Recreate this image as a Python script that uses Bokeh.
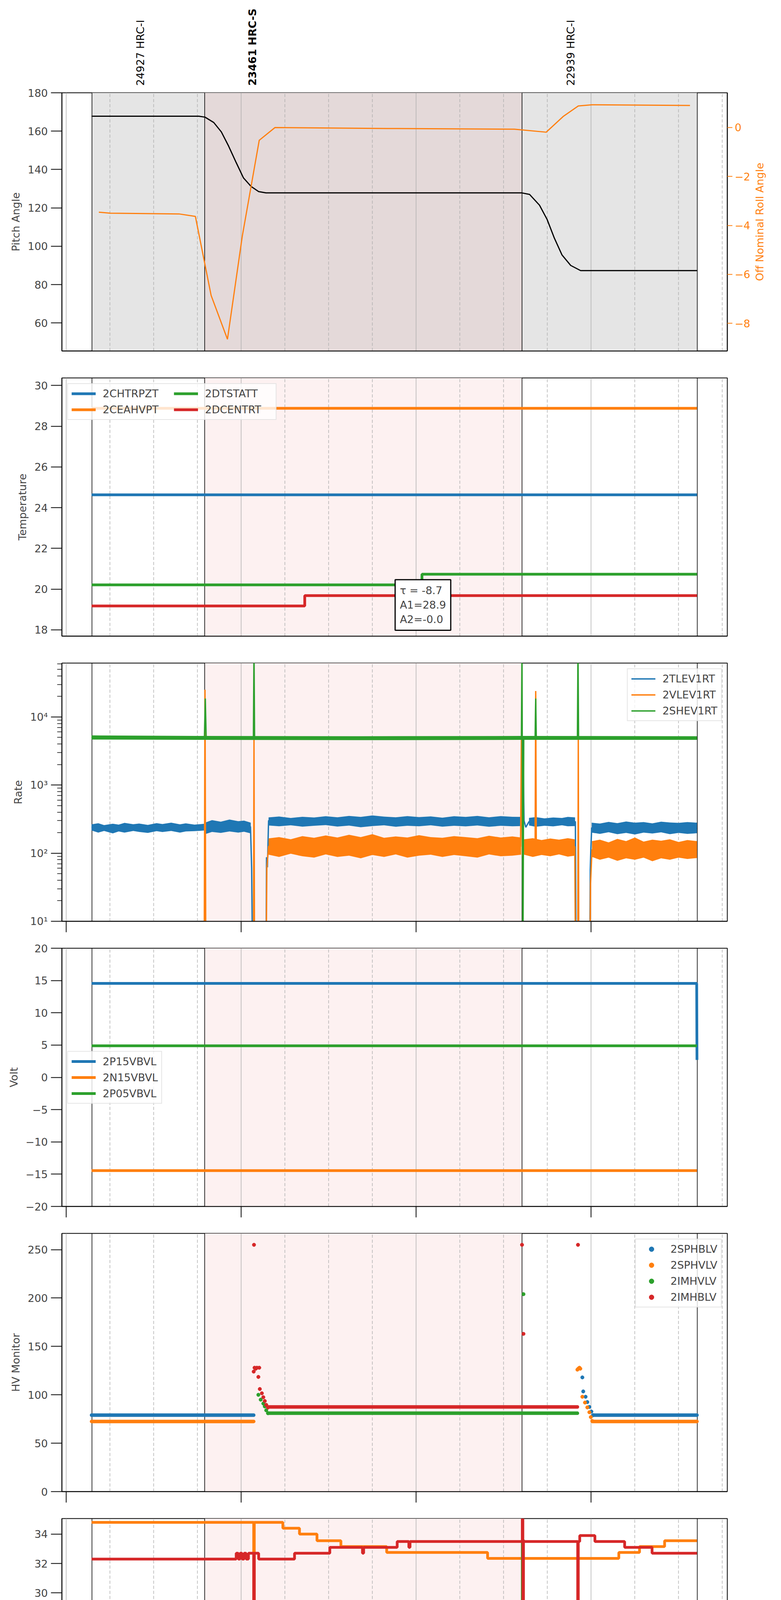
from math import pi

from bokeh.core.properties import value
from bokeh.embed import file_html
from bokeh.layouts import column, row
from bokeh.models import (BoxAnnotation, ColumnDataSource, FixedTicker, Label, Legend,
                          LegendItem, LinearAxis, Range1d, Span)
from bokeh.plotting import figure
from bokeh.resources import INLINE

FONT = "DejaVu Sans"
BLUE, ORANGE, GREEN, RED = "#1f77b4", "#ff7f0e", "#2ca02c", "#d62728"

# time axis: minutes after 2021-01-13 01:00
hour_ticks = [0, 60, 120, 180]
hour_labels = ["01h", "02h", "03h", "04h"]
quarter_ticks = [15, 30, 45, 75, 90, 105, 135, 150, 165, 195, 210, 225]
quarter_labels = ["15", "30", "45"] * 4
date_label = "2021-01-13 (013)"

# observations
obs_starts = [8.84, 47.5, 156.3]
obs_end = 216.4
obs_names = ["24927 HRC-I", "23461 HRC-S", "22939 HRC-I"]
obs_label_t = [25.4, 63.9, 173.0]
obs_style = ["normal", "bold", "normal"]

# panel 1: pitch and roll
pitch_t = [8.7, 45.5, 47.6, 50.6, 53.2, 55.7, 58.3, 60.8, 63.4, 66.0, 68.5,
           156.3, 158.9, 162.3, 164.9, 167.4, 170.0, 173.0, 176.4, 216.4]
pitch_v = [167.8, 167.8, 167.3, 164.5, 159.6, 152.2, 143.6, 135.6, 131.2, 128.5, 127.8,
           127.8, 127.0, 121.4, 114.0, 104.2, 95.5, 90.0, 87.3, 87.3]
roll_t = [11.2, 15.1, 38.7, 44.3, 49.7, 55.3, 60.4, 66.2, 71.6, 110.2, 153.7,
          164.6, 170.4, 175.6, 180.3, 213.9]
roll_v = [-3.46, -3.50, -3.53, -3.63, -6.86, -8.65, -4.43, -0.52, 0.0, -0.04, -0.07,
          -0.19, 0.45, 0.88, 0.93, 0.90]

# panel 2: temperature
chtrpzt_t, chtrpzt_v = [8.7, 216.3], [24.63, 24.63]
ceahvpt_t, ceahvpt_v = [8.7, 216.3], [28.88, 28.88]
dtstatt_t, dtstatt_v = [8.7, 122.0, 216.3], [20.21, 20.73, 20.73]
dcentrt_t, dcentrt_v = [8.7, 81.8, 216.3], [19.17, 19.68, 19.68]
fit_text = "τ = -8.7\nA1=28.9\nA2=-0.0"

# panel 3: rates
tlev_t = [8.7, 15, 22, 30, 38, 45, 47.4, 47.8, 52, 58, 63.2, 63.6, 64.0, 68.5, 68.7, 69.0, 69.4,
          80, 95, 110, 125, 140, 155.9, 156.3, 156.6, 157.0, 157.6, 158.7, 165, 174.6, 174.9,
          179.5, 179.7, 179.9, 180.2, 190, 200, 210, 216.3]
tlev_v = [240, 235, 245, 235, 245, 240, 230, 200, 250, 250, 245, 60, 1, 1, 87, 62, 300,
          295, 300, 305, 295, 295, 290, 260, 5000, 300, 240, 290, 295, 290, 1,
          1, 57, 110, 235, 230, 235, 230, 230]
tlev_band_t = [[8.7, 11, 13, 16, 18, 20, 23, 25, 28, 31, 33, 36, 39, 41, 44, 47.5],
               [47.6, 50, 53, 56, 59, 61, 63.3],
               [69.4, 73, 77, 81, 85, 89, 93, 97, 101, 105, 109, 113, 117, 121, 125, 129,
                133, 137, 141, 145, 149, 153, 156],
               [158.7, 161, 164, 167, 170, 172, 174.5],
               [180.2, 183, 186, 189, 192, 195, 198, 201, 204, 207, 210, 213, 216.3]]
tlev_band_lo = [[215, 200, 212, 195, 208, 200, 212, 205, 198, 210, 204, 212, 200, 208, 210, 215],
                [190, 205, 198, 208, 200, 206, 195],
                [255, 248, 256, 245, 252, 258, 246, 254, 240, 250, 256, 244, 252, 248, 256,
                 245, 252, 247, 255, 244, 252, 248, 250],
                [255, 244, 252, 247, 256, 248, 250],
                [200, 192, 203, 190, 198, 188, 200, 194, 202, 190, 198, 192, 196]]
tlev_band_hi = [[265, 275, 258, 270, 262, 278, 266, 272, 260, 276, 268, 280, 265, 274, 262, 270],
                [280, 305, 290, 312, 295, 300, 280],
                [335, 345, 328, 342, 334, 348, 336, 352, 340, 358, 344, 336, 350, 338, 346,
                 332, 348, 340, 352, 336, 350, 342, 340],
                [330, 338, 324, 334, 328, 340, 335],
                [280, 272, 288, 276, 292, 280, 286, 274, 290, 282, 278, 286, 280]]

vlev_t = [47.3, 47.6, 47.9, 64.2, 64.4, 64.6, 68.5, 68.8, 69.4, 80, 95, 110, 125, 140,
          155.8, 156.1, 156.4, 157, 159, 160.8, 161.0, 161.2, 165, 174.4, 174.7, 175.4,
          175.6, 175.8, 179.5, 179.8, 180.3, 190, 200, 210, 216.3]
vlev_v = [1, 25000, 1, 1, 5000, 1, 1, 60, 126, 125, 130, 128, 125, 127,
          125, 5000, 90, 130, 125, 130, 24000, 130, 125, 125, 1, 1,
          5000, 1, 1, 36, 112, 110, 112, 110, 112]
vlev_band_t = [[69.4, 73, 77, 81, 85, 89, 93, 97, 101, 105, 109, 113, 117, 121, 125, 129,
                133, 137, 141, 145, 149, 153, 156],
               [157, 160, 163, 166, 169, 172, 174.4],
               [180.3, 183, 186, 189, 192, 195, 198, 201, 204, 207, 210, 213, 216.3]]
vlev_band_lo = [[95, 88, 98, 90, 86, 96, 88, 92, 84, 94, 88, 96, 86, 92, 95, 88, 94, 90, 86,
                 96, 90, 92, 95],
                [95, 88, 94, 90, 96, 89, 92],
                [88, 80, 86, 77, 84, 80, 86, 76, 84, 80, 86, 82, 85]]
vlev_band_hi = [[165, 172, 160, 178, 168, 182, 170, 186, 172, 190, 168, 176, 170, 184, 172,
                 168, 178, 172, 166, 180, 170, 176, 170],
                [160, 166, 156, 164, 158, 166, 160],
                [150, 158, 144, 162, 150, 170, 148, 158, 152, 160, 146, 156, 150]]

shev_t = [8.7, 20, 35, 47.4, 47.7, 48.0, 55, 64.2, 64.4, 64.6, 80, 100, 120, 140,
          156.1, 156.3, 156.6, 156.9, 160.8, 161.0, 161.2, 170, 175.3, 175.5, 175.7,
          190, 205, 216.3]
shev_v = [5000, 5050, 5000, 5000, 18600, 4900, 4850, 4850, 100000, 4850, 4800, 4850, 4800, 4850,
          4850, 100000, 1, 4900, 5000, 18600, 5000, 4900, 4850, 100000, 4850,
          4850, 4900, 4850]
shev_band_t = [[8.7, 47.5, 100, 156, 216.3]]
shev_band_lo = [[4650, 4600, 4550, 4600, 4600]]
shev_band_hi = [[5350, 5250, 5200, 5250, 5200]]

# panel 4: voltages
p15_t, p15_v = [8.7, 216.2, 216.3], [14.55, 14.55, 2.7]
n15_t, n15_v = [8.7, 216.3], [-14.45, -14.45]
p05_t, p05_v = [8.7, 216.3], [4.88, 4.88]

# panel 5: HV monitor (flat runs and individual samples)
sphblv_run = ([8.7, 180.7], [64.3, 216.3], [79, 79])
sphvlv_run = ([8.7, 180.4], [64.3, 216.3], [72.5, 72.5])
imhvlv_run = ([69.2], [175.3], [81])
imhblv_run = ([69.2], [175.3], [87.5])
sphblv_t = [177.0, 177.3, 178.1, 178.7, 179.4, 180.1, 180.7]
sphblv_v = [118, 103.5, 98, 92.5, 87.5, 82.7, 79]
sphvlv_t = [175.3, 175.6, 176.0, 176.3, 177.0, 177.9, 178.7, 179.4, 179.9, 180.4]
sphvlv_v = [126, 127, 128, 127, 98, 92, 87, 82, 77, 73]
imhvlv_t = [65.9, 66.7, 67.6, 68.1, 68.6, 69.2, 156.8]
imhvlv_v = [100, 95, 91, 88, 84, 81, 204]
imhblv_t = [64.4, 64.3, 64.6, 65.0, 65.4, 65.9, 66.2, 66.4, 67.1, 67.6, 68.1, 68.6, 69.2,
            156.3, 156.8, 175.5]
imhblv_v = [255, 124, 128, 127, 128, 118.5, 128, 106, 101.6, 97.5, 93.6, 89.6, 87,
            255, 163, 255]

# panel 6: detector temperatures (step series)
spinatm_t, spinatm_v = [8.7, 216.3], [18.95, 18.95]
sphvatm_t = [8.7, 64.3, 64.5, 74.3, 80.0, 86.0, 94.2, 109.9, 144.5, 156.5, 156.7,
             189.5, 196.6, 205.2, 216.3]
sphvatm_v = [34.8, 15, 34.8, 34.4, 34.0, 33.55, 33.15, 32.75, 32.35, 15, 32.35,
             32.75, 33.15, 33.55, 33.55]
iminatm_t = [8.7, 79.7, 80.3, 81.0, 81.6, 82.3, 83.0, 83.8, 84.5, 92.0, 92.4,
             156.4, 156.8, 216.3]
iminatm_v = [19.6, 20.3, 19.6, 20.3, 19.6, 20.3, 19.6, 20.3, 20.3, 19.6, 20.3,
             33.6, 20.3, 20.3]
imhvatm_t = [8.7, 58.3, 59.0, 59.6, 60.3, 61.0, 61.7, 62.5, 64.3, 64.5, 66.0, 78.3, 90.4,
             101.6, 102.0, 113.5, 117.5, 117.9, 156.4, 156.6, 156.8, 175.4, 175.6, 176.1,
             181.3, 191.5, 200.9, 216.3]
imhvatm_v = [32.3, 32.7, 32.3, 32.7, 32.3, 32.7, 32.3, 32.7, 15, 32.7, 32.3, 32.7, 33.1,
             32.7, 33.1, 33.5, 33.1, 33.5, 40, 15, 33.5, 15, 33.5, 33.9,
             33.5, 33.1, 32.7, 32.7]

# panel 7: FEA temperatures (step series)
fhtrmzt_t = [8.7, 45.5, 46.0, 46.5, 47.0, 47.6, 48.1, 48.5, 209.0, 216.3]
fhtrmzt_v = [22.9, 23.45, 22.9, 23.45, 22.9, 23.45, 22.85, 23.45, 22.9, 22.9]
fradpyt_t = [8.7, 44.1, 44.5, 45.0, 45.4, 172.7, 190.2, 215.5, 216.3]
fradpyt_v = [18.65, 19.15, 18.65, 19.15, 19.15, 18.65, 18.15, 17.65, 17.65]
fepratm_t = [8.7, 64.3, 64.5, 98.4, 98.8, 99.5, 100.0, 100.8, 101.5, 102.3, 103.0, 104.0,
             104.8, 105.6, 169.3, 169.7, 175.3, 175.7, 203.5, 205.0, 205.4, 216.3]
fepratm_v = [24.6, 22.9, 24.6, 25.4, 24.6, 25.4, 24.6, 25.4, 24.6, 25.4, 24.6, 25.4,
             24.6, 25.4, 24.6, 25.4, 23.4, 25.4, 24.6, 25.4, 24.6, 24.6]
fe00atm_t = [8.7, 22.7, 58.0, 58.3, 64.3, 64.5, 82.2, 82.5, 95.4, 95.7, 102.9, 103.2,
             105.6, 105.9, 114.3, 114.6, 133.3, 133.6, 148.0, 149.0, 150.0, 151.0, 152.3,
             152.6, 153.5, 154.5, 156.4, 156.6, 156.8, 158.2, 165.1, 165.4, 167.8, 168.1,
             175.4, 175.6, 190.8, 191.1, 216.3]
fe00atm_v = [22.65, 22.95, 23.3, 22.95, 15, 22.95, 22.65, 22.95, 23.3, 22.95, 22.3, 22.95,
             23.9, 22.95, 23.6, 22.95, 22.65, 22.95, 23.3, 22.95, 23.3, 22.95, 23.6,
             23.3, 22.95, 23.3, 30, 15, 22.95, 23.3, 22.95, 23.3, 22.65, 23.3,
             15, 22.95, 23.9, 22.95, 22.95]

FW, FH = 1704, 661
x_range = Range1d(-1.47, 226.7)
xticker = FixedTicker(ticks=hour_ticks, minor_ticks=quarter_ticks)


def minus(v):
    return str(v).replace("-", "\u2212")


def hide_labels(ax):
    ax.major_label_text_color = None
    ax.major_label_text_font_size = "1px"
    ax.major_label_standoff = 0


def bare_figure(xr, yr, fw, fh, left, right, top, bottom):
    f = figure(x_range=xr, y_range=yr, frame_width=fw, frame_height=fh,
               min_border_left=left, min_border_right=right, min_border_top=top,
               min_border_bottom=bottom, x_axis_location=None, y_axis_location=None,
               toolbar_location=None, output_backend="svg")
    f.outline_line_color = None
    f.xgrid.grid_line_color = None
    f.ygrid.grid_line_color = None
    return f


def make_panel(ylabel, y_range, y_ticks, top=30, bottom=39, log=False, tick_out=28,
               right=110, ytick_labels=None, shade="#fdf1f1"):
    p = figure(x_range=x_range, y_range=y_range, y_axis_type="log" if log else "linear",
               frame_width=FW, frame_height=FH, min_border_left=158, min_border_right=right,
               min_border_top=top, min_border_bottom=bottom,
               toolbar_location=None, output_backend="svg")
    p.outline_line_color = "black"
    p.outline_line_width = 2
    p.outline_line_alpha = 1

    xa = p.xaxis[0]
    xa.ticker = xticker
    xa.axis_line_width = 2
    xa.major_tick_in = 0
    xa.major_tick_out = tick_out
    xa.major_tick_line_width = 2
    xa.minor_tick_in = 0
    xa.minor_tick_out = 0
    hide_labels(xa)

    p.xgrid.ticker = xticker
    p.xgrid.grid_line_color = "#b0b0b0"
    p.xgrid.grid_line_width = 1.5
    p.xgrid.minor_grid_line_color = "#b0b0b0"
    p.xgrid.minor_grid_line_width = 1.5
    p.xgrid.minor_grid_line_dash = "8 5"
    p.ygrid.grid_line_color = None

    ya = p.yaxis[0]
    ya.ticker = y_ticks
    ya.axis_line_width = 2
    ya.major_tick_in = 0
    ya.major_tick_out = 28
    ya.major_tick_line_width = 2
    ya.minor_tick_in = 0
    ya.minor_tick_out = 12
    ya.minor_tick_line_width = 1.5
    ya.major_label_text_font = FONT
    ya.major_label_text_font_size = "27px"
    ya.major_label_standoff = 8
    ya.axis_label = ylabel
    ya.axis_label_text_font = FONT
    ya.axis_label_text_font_size = "27px"
    ya.axis_label_text_font_style = "normal"
    ya.axis_label_standoff = 12
    if ytick_labels:
        ya.major_label_overrides = ytick_labels

    if shade:
        p.add_layout(BoxAnnotation(left=obs_starts[1], right=obs_starts[2], fill_color=shade,
                                   fill_alpha=1, line_color=None, level="image"))
    for t in obs_starts + [obs_end]:
        p.add_layout(Span(location=t, dimension="height", line_color="black",
                          line_width=1.6, level="underlay"))
    return p


def add_legend(p, items, location, ncols=1, label_width=20):
    lg = Legend(items=[LegendItem(label=k, renderers=[r]) for k, r in items],
                location=location, ncols=ncols)
    lg.label_text_font = FONT
    lg.label_text_font_size = "27px"
    lg.glyph_width = 62
    lg.glyph_height = 31
    lg.label_height = 31
    lg.label_width = label_width
    lg.label_standoff = 18
    lg.spacing = 10
    lg.padding = 9
    lg.margin = 14
    lg.border_line_color = "#cccccc"
    lg.border_line_width = 2
    lg.background_fill_alpha = 0.8
    p.add_layout(lg)


def lin_ticks(vals):
    return FixedTicker(ticks=vals), {v: minus(v) for v in vals if v < 0}


# ---- header with observation labels
head = bare_figure(x_range, Range1d(0, 211), FW, 211, 158, 110, 10, 0)
obs_src = ColumnDataSource(dict(x=obs_label_t, y=[2] * 3, text=obs_names, style=obs_style))
head.text(x="x", y="y", text="text", source=obs_src, angle=pi / 2, text_align="left",
          text_baseline="middle", text_font=value(FONT), text_font_size="27px",
          text_font_style="style", text_color="black")

# ---- panel 1
tk, ov = lin_ticks([60, 80, 100, 120, 140, 160, 180])
p1 = make_panel("Pitch Angle", Range1d(45.4, 180), tk, top=16, tick_out=0, shade=None, right=63)
p1.add_layout(BoxAnnotation(left=obs_starts[0], right=obs_end, fill_color="#e5e5e5",
                            fill_alpha=1, line_color=None, level="image"))
p1.add_layout(BoxAnnotation(left=obs_starts[1], right=obs_starts[2], fill_color="#e4d9d9",
                            fill_alpha=1, line_color=None, level="image"))
p1.extra_y_ranges = {"roll": Range1d(-9.13, 1.42)}
roll_ticks = [-8, -6, -4, -2, 0]
ra = LinearAxis(y_range_name="roll", ticker=FixedTicker(ticks=roll_ticks),
                major_label_overrides={v: minus(v) for v in roll_ticks})
ra.axis_line_width = 2
ra.major_tick_in = 0
ra.major_tick_out = 13
ra.major_tick_line_width = 2
ra.major_tick_line_color = ORANGE
ra.minor_tick_line_color = None
ra.major_label_text_color = ORANGE
ra.major_label_text_font = FONT
ra.major_label_text_font_size = "27px"
ra.major_label_standoff = 6
p1.add_layout(ra, "right")
p1.line(pitch_t, pitch_v, line_color="black", line_width=3)
p1.line(roll_t, roll_v, line_color=ORANGE, line_width=3, y_range_name="roll")

# right-hand axis title, reading upwards
rl = bare_figure(Range1d(0, 1), Range1d(0, 1), 40, FH, 0, 0, 16, 39)
rl.text(x=[0.5], y=[0.5], text=["Off Nominal Roll Angle"], angle=pi / 2, text_align="center",
        text_baseline="middle", text_font=value(FONT), text_font_size="27px", text_color=ORANGE)

# ---- panel 2
tk, ov = lin_ticks([18, 20, 22, 24, 26, 28, 30])
p2 = make_panel("Temperature", Range1d(17.69, 30.37), tk, tick_out=0)
r_a = p2.step(chtrpzt_t, chtrpzt_v, mode="after", line_color=BLUE, line_width=7)
r_b = p2.step(ceahvpt_t, ceahvpt_v, mode="after", line_color=ORANGE, line_width=7)
r_c = p2.step(dtstatt_t, dtstatt_v, mode="after", line_color=GREEN, line_width=7)
r_d = p2.step(dcentrt_t, dcentrt_v, mode="after", line_color=RED, line_width=7)
add_legend(p2, [("2CHTRPZT", r_a), ("2CEAHVPT", r_b), ("2DTSTATT", r_c), ("2DCENTRT", r_d)],
           "top_left", ncols=2, label_width=172)
p2.add_layout(Label(x=112.8, y=17.98, text=fit_text, text_align="left", text_baseline="bottom",
                    text_font=FONT, text_font_size="27px", border_line_color="black",
                    border_line_width=3, background_fill_color="white", padding=12))

# ---- panel 3
rate_major = [10, 100, 1000, 10000]
rate_minor = [m * d for d in [10, 100, 1000, 10000] for m in range(2, 10)]
p3 = make_panel("Rate", Range1d(10, 61600), FixedTicker(ticks=rate_major, minor_ticks=rate_minor),
                log=True, ytick_labels={10: "10\u00b9", 100: "10\u00b2", 1000: "10\u00b3",
                                        10000: "10\u2074"})
rates = [(tlev_t, tlev_v, tlev_band_t, tlev_band_lo, tlev_band_hi, BLUE, "2TLEV1RT"),
         (vlev_t, vlev_v, vlev_band_t, vlev_band_lo, vlev_band_hi, ORANGE, "2VLEV1RT"),
         (shev_t, shev_v, shev_band_t, shev_band_lo, shev_band_hi, GREEN, "2SHEV1RT")]
rate_items = []
for t, v, bt, blo, bhi, col, name in rates:
    for st, slo, shi in zip(bt, blo, bhi):
        p3.varea(x=st, y1=slo, y2=shi, fill_color=col, fill_alpha=1)
    r = p3.line(t, v, line_color=col, line_width=3.5)
    rate_items.append((name, r))
add_legend(p3, rate_items, "top_right")

# ---- panel 4
tk, ov = lin_ticks([-20, -15, -10, -5, 0, 5, 10, 15, 20])
p4 = make_panel("Volt", Range1d(-20, 20), tk, ytick_labels=ov)
r_a = p4.line(p15_t, p15_v, line_color=BLUE, line_width=7)
r_b = p4.line(n15_t, n15_v, line_color=ORANGE, line_width=7)
r_c = p4.line(p05_t, p05_v, line_color=GREEN, line_width=7)
add_legend(p4, [("2P15VBVL", r_a), ("2N15VBVL", r_b), ("2P05VBVL", r_c)], "center_left")

# ---- panel 5
tk, ov = lin_ticks([0, 50, 100, 150, 200, 250])
p5 = make_panel("HV Monitor", Range1d(0, 266.8), tk)
hv = [(sphblv_run, sphblv_t, sphblv_v, BLUE, "2SPHBLV"),
      (sphvlv_run, sphvlv_t, sphvlv_v, ORANGE, "2SPHVLV"),
      (imhvlv_run, imhvlv_t, imhvlv_v, GREEN, "2IMHVLV"),
      (imhblv_run, imhblv_t, imhblv_v, RED, "2IMHBLV")]
hv_items = []
for (x0, x1, yv), t, v, col, name in hv:
    p5.segment(x0=x0, y0=yv, x1=x1, y1=yv, line_color=col, line_width=9, line_cap="round")
    r = p5.scatter(t, v, size=9, fill_color=col, line_color=col)
    hv_items.append((name, r))
add_legend(p5, hv_items, "top_right")

# ---- panel 6
tk, ov = lin_ticks([18, 20, 22, 24, 26, 28, 30, 32, 34])
p6 = make_panel("Detector Temp", Range1d(17.48, 35.06), tk)
det = [(spinatm_t, spinatm_v, BLUE, "2SPINATM"), (sphvatm_t, sphvatm_v, ORANGE, "2SPHVATM"),
       (iminatm_t, iminatm_v, GREEN, "2IMINATM"), (imhvatm_t, imhvatm_v, RED, "2IMHVATM")]
det_items = []
for t, v, col, name in det:
    det_items.append((name, p6.step(t, v, mode="after", line_color=col, line_width=7)))
add_legend(p6, det_items, "center_right")

# ---- panel 7
tk, ov = lin_ticks([18, 20, 22, 24, 26])
p7 = make_panel("FEA Temp", Range1d(17.18, 26.88), tk, bottom=96)
fea = [(fhtrmzt_t, fhtrmzt_v, BLUE, "2FHTRMZT"), (fradpyt_t, fradpyt_v, ORANGE, "2FRADPYT"),
       (fepratm_t, fepratm_v, GREEN, "2FEPRATM"), (fe00atm_t, fe00atm_v, RED, "2FE00ATM")]
fea_items = []
for t, v, col, name in fea:
    fea_items.append((name, p7.step(t, v, mode="after", line_color=col, line_width=7)))
add_legend(p7, fea_items, "top_left")

# inner axis: quarter-hour ticks and labels
xa = p7.xaxis[0]
xa.ticker = FixedTicker(ticks=quarter_ticks)
xa.major_label_overrides = dict(zip(quarter_ticks, quarter_labels))
xa.major_label_text_color = "black"
xa.major_label_text_font = FONT
xa.major_label_text_font_size = "18px"
xa.major_label_standoff = 4
xa.major_tick_out = 6
xa.major_tick_line_width = 2

# outer axis: hour ticks, labels and the date
hx = LinearAxis(ticker=FixedTicker(ticks=hour_ticks),
                major_label_overrides=dict(zip(hour_ticks, hour_labels)),
                axis_label=date_label)
hx.axis_line_color = None
hx.major_tick_in = 29
hx.major_tick_out = 0
hx.major_tick_line_width = 2
hx.minor_tick_line_color = None
hx.major_label_text_font = FONT
hx.major_label_text_font_size = "27px"
hx.major_label_standoff = 4
hx.axis_label_text_font = FONT
hx.axis_label_text_font_size = "31px"
hx.axis_label_text_font_style = "normal"
hx.axis_label_standoff = 4
p7.add_layout(hx, "below")

layout = column(head, row(p1, rl, spacing=0), p2, p3, p4, p5, p6, p7, spacing=0)
open("out.html", "w").write(file_html(layout, INLINE))
